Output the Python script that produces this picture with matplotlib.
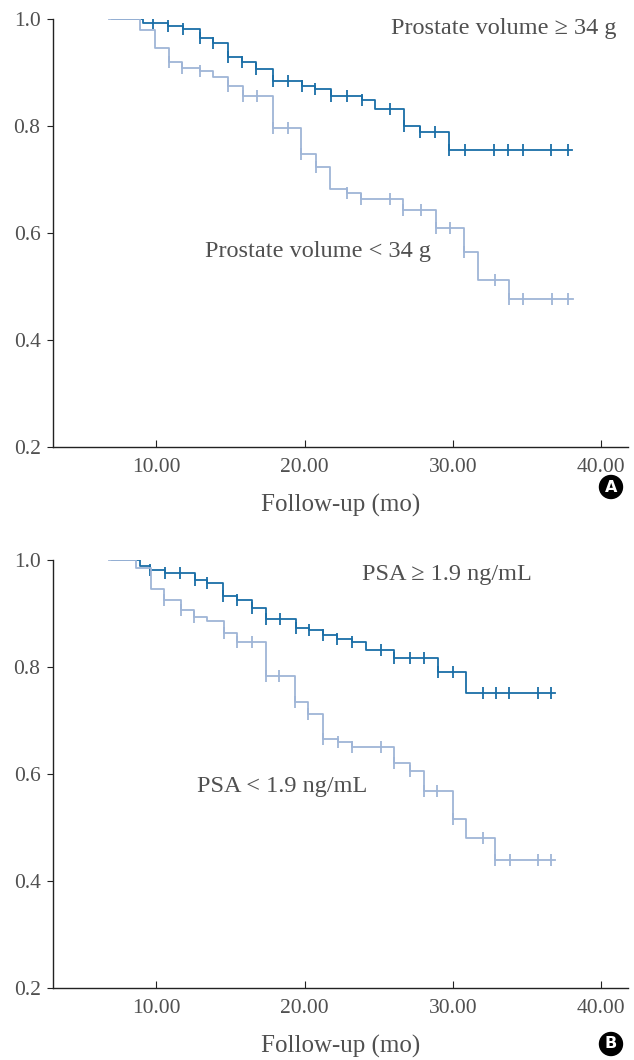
import numpy as np
import matplotlib.pyplot as plt

plt.rcParams['font.family'] = ['Liberation Serif', 'DejaVu Serif']

# panel A: prostate volume >= 34 g (dark) / < 34 g (light)
a_hi_t = [7.0, 9.1, 10.83, 11.8, 12.96, 13.86, 14.87, 15.77, 16.73, 17.86, 19.81, 20.71,
          21.76, 23.85, 24.75, 26.72, 27.78, 29.75, 38.03]
a_hi_s = [1.0, 0.993, 0.987, 0.982, 0.965, 0.955, 0.930, 0.920, 0.906, 0.885, 0.875, 0.870,
          0.857, 0.849, 0.831, 0.800, 0.788, 0.755, 0.755]
a_hi_c = [9.82, 10.83, 11.8, 12.96, 13.86, 14.87, 15.77, 16.73, 17.86, 18.91, 19.81, 20.71,
          21.76, 22.88, 23.85, 25.76, 26.72, 27.78, 28.79, 29.75, 30.8, 32.78, 33.73, 34.69,
          36.6, 37.77]

a_lo_t = [6.85, 8.9, 9.93, 10.85, 11.77, 12.96, 13.86, 14.87, 15.88, 17.86, 19.79, 20.77,
          21.72, 22.84, 23.8, 26.65, 28.83, 30.76, 31.66, 33.79, 38.1]
a_lo_s = [1.0, 0.980, 0.946, 0.920, 0.908, 0.903, 0.892, 0.875, 0.856, 0.796, 0.747, 0.724,
          0.682, 0.675, 0.664, 0.643, 0.609, 0.565, 0.512, 0.476, 0.476]
a_lo_c = [10.85, 11.77, 12.96, 14.87, 15.88, 16.78, 17.86, 18.91, 19.79, 20.77, 22.84, 23.8,
          25.76, 26.65, 27.82, 28.83, 29.8, 30.76, 32.83, 33.79, 34.73, 36.65, 37.77]

# panel B: PSA >= 1.9 ng/mL (dark) / < 1.9 ng/mL (light)
b_hi_t = [7.0, 8.9, 9.6, 10.6, 12.63, 13.46, 14.49, 15.43, 16.49, 17.39, 19.4, 20.3, 21.23,
          22.17, 23.18, 24.14, 26.05, 28.97, 30.88, 36.9]
b_hi_s = [1.0, 0.989, 0.981, 0.975, 0.963, 0.958, 0.933, 0.925, 0.911, 0.890, 0.874, 0.869,
          0.860, 0.852, 0.847, 0.832, 0.817, 0.791, 0.752, 0.752]
b_hi_c = [9.6, 10.6, 11.62, 12.63, 13.46, 14.49, 15.43, 16.49, 17.39, 18.35, 19.4, 20.3,
          21.23, 22.17, 23.18, 25.13, 26.05, 27.1, 28.05, 28.97, 30.02, 32.0, 32.88, 33.79,
          35.74, 36.64]

b_lo_t = [6.85, 8.63, 9.64, 10.56, 11.68, 12.56, 13.46, 14.58, 15.43, 17.41, 19.36, 20.26,
          21.27, 22.28, 23.18, 26.05, 27.1, 28.05, 30.02, 30.88, 32.83, 36.87]
b_lo_s = [1.0, 0.986, 0.946, 0.925, 0.907, 0.894, 0.887, 0.864, 0.847, 0.783, 0.735, 0.713,
          0.665, 0.660, 0.650, 0.620, 0.606, 0.568, 0.516, 0.481, 0.439, 0.439]
b_lo_c = [10.56, 11.68, 12.56, 14.58, 15.43, 16.49, 17.41, 18.28, 19.36, 20.26, 21.27, 22.28,
          23.18, 25.13, 26.05, 27.1, 28.05, 28.9, 30.02, 32.0, 32.83, 33.84, 35.74, 36.64]

dark = '#1a6ea7'
light = '#9fb5d7'
grey = '#505050'


def km(ax, t, s, c, color):
    t = np.array(t)
    s = np.array(s)
    ax.step(t, s, where='post', color=color, lw=1.3)
    idx = np.searchsorted(t, np.array(c), side='right') - 1
    ax.plot(c, s[idx], ls='none', marker='|', ms=9, mew=1.3, color=color)


fig = plt.figure(figsize=(6.34, 10.6), dpi=100)
ax1 = fig.add_axes([0.0836, 0.5783, 0.907, 0.4037])
ax2 = fig.add_axes([0.0836, 0.0679, 0.907, 0.4037])

panels = [
    (ax1, (a_hi_t, a_hi_s, a_hi_c), (a_lo_t, a_lo_s, a_lo_c),
     'Prostate volume \u2265 34 g', (41.0, 0.983, 'right'),
     'Prostate volume < 34 g', (20.9, 0.565, 'center')),
    (ax2, (b_hi_t, b_hi_s, b_hi_c), (b_lo_t, b_lo_s, b_lo_c),
     'PSA \u2265 1.9 ng/mL', (29.6, 0.974, 'center'),
     'PSA < 1.9 ng/mL', (18.5, 0.576, 'center')),
]

for ax, hi, lo, hi_lab, hi_pos, lo_lab, lo_pos in panels:
    km(ax, *hi, dark)
    km(ax, *lo, light)
    ax.set_xlim(3.05, 41.8)
    ax.set_ylim(0.2, 1.0)
    ax.spines['top'].set_visible(False)
    ax.spines['right'].set_visible(False)
    for sp in ['left', 'bottom']:
        ax.spines[sp].set_color('#222222')
        ax.spines[sp].set_linewidth(1.0)
    ax.set_xticks([10, 20, 30, 40])
    ax.set_xticklabels(['10.00', '20.00', '30.00', '40.00'])
    ax.set_yticks([0.2, 0.4, 0.6, 0.8, 1.0])
    ax.set_yticklabels(['0.2', '0.4', '0.6', '0.8', '1.0'])
    ax.tick_params(axis='x', direction='in', length=5, pad=8, labelsize=15.5,
                   labelcolor=grey, color='#222222')
    ax.tick_params(axis='y', direction='out', length=4, pad=5, labelsize=15.5,
                   labelcolor=grey, color='#222222')
    ax.set_xlabel('Follow-up (mo)', fontsize=18, color=grey, labelpad=12)
    ax.text(hi_pos[0], hi_pos[1], hi_lab, ha=hi_pos[2], va='center',
            fontsize=17.5, color=grey)
    ax.text(lo_pos[0], lo_pos[1], lo_lab, ha=lo_pos[2], va='center',
            fontsize=17.5, color=grey)

fig.text(0.9637, 1 - 487 / 1060, 'A', ha='center', va='center', fontsize=11.5,
         fontweight='bold', color='white', family='DejaVu Sans',
         bbox=dict(boxstyle='circle,pad=0.25', fc='black', ec='black'))
fig.text(0.9637, 1 - 1044 / 1060, 'B', ha='center', va='center', fontsize=11.5,
         fontweight='bold', color='white', family='DejaVu Sans',
         bbox=dict(boxstyle='circle,pad=0.25', fc='black', ec='black'))

fig.savefig('out.png', dpi=100)
